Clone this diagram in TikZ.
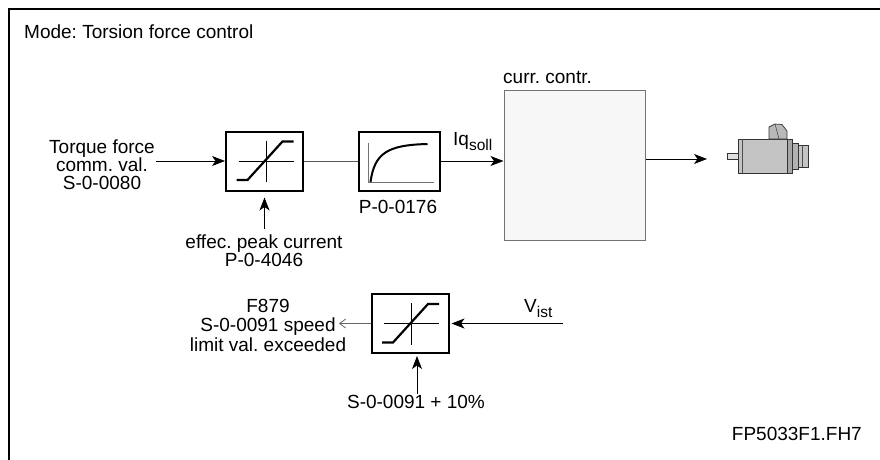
\documentclass[tikz,border=0pt]{standalone}
\usepackage{fontspec}
\setmainfont{Liberation Sans}
\usetikzlibrary{arrows.meta,calc}
\frenchspacing
\newcommand\fs{\fontsize{19}{17.5}\selectfont}
\newcommand\fsub{\fontsize{15.5}{15.5}\selectfont}
\definecolor{ccfill}{HTML}{F7F7F7}
\definecolor{motgray}{HTML}{C4C4C4}
\tikzset{
  lim/.style={draw, line width=2pt, minimum width=77pt, minimum height=59pt, inner sep=0pt},
  arr/.style={line width=0.9pt, -{Stealth[length=13pt,width=10pt,inset=3.5pt]}},
  openarr/.style={line width=0.8pt, draw=black!60, -{Straight Barb[length=6pt,width=9pt]}},
  thinline/.style={line width=0.9pt, draw=black!65},
  txt/.style={font=\fs, align=center, inner sep=1pt},
  crossline/.style={line width=0.8pt},
  limline/.style={line width=2.2pt},
  axisline/.style={line width=1pt, draw=black!55},
  motpart/.style={draw=black!80, line width=0.7pt, fill=motgray},
}
\newcommand\limcontent[1]{%
  \begin{scope}[shift={(#1.center)}]
    \draw[crossline] (-26,0) -- (29,0);
    \draw[crossline] (1.5,-20.5) -- (1.5,21);
    \draw[limline] (-28,19) -- (-17,19) -- (18,-19.5) -- (29,-19.5);
  \end{scope}}
\begin{document}
\begin{tikzpicture}[x=1pt,y=-1pt]
\useasboundingbox (0,0) rectangle (880,460);
% frame
\draw[line width=2pt] (880,9.5) -- (9,9.5) -- (9,460);
\node[txt, anchor=base west, inner sep=0pt] (title) at (24,38) {Mode: Torsion force control};

% blocks
\node[lim] (lim1) at (264.5,161) {};
\limcontent{lim1}
\node[lim, minimum width=81pt] (filt) at (399.5,161) {};
\begin{scope}[shift={(filt.center)}]
  \draw[axisline] (-31.5,-18) -- (-31.5,21) -- (34.5,21);
  \draw[limline, line width=2pt] (-29,21) .. controls (-25,-8) and (-12,-16) .. (28,-17);
\end{scope}
\node[draw=black!55, line width=1pt, fill=ccfill, minimum width=141pt, minimum height=150pt, inner sep=0pt] (cc) at (574.5,165) {};
\node[lim] (lim2) at (410,323.5) {};
\limcontent{lim2}

% labels
\node[txt] (tin) at (102,164.5) {Torque force\\comm. val.\\S-0-0080};
\node[txt, align=center, font=\fontsize{19}{15}\selectfont] (peak) at (264,251) {effec. peak current\\P-0-4046};
\node[txt, anchor=base] (p176) at (398,213) {P-0-0176};
\node[txt, anchor=base west, inner sep=0pt] (iq) at (453,145) {Iq\raisebox{-5pt}{\fsub soll}};
\node[txt, anchor=base west, inner sep=0pt] (ccl) at (503,83) {curr. contr.};
\node[txt, anchor=base west, inner sep=0pt] (vist) at (524,312) {V\raisebox{-5pt}{\fsub ist}};
\node[txt, font=\fontsize{19}{19.5}\selectfont] (f879) at (268,325) {F879\\S-0-0091 speed\\limit val. exceeded};
\node[txt, anchor=base] (s91) at (416,408) {S-0-0091 + 10\%};
\node[txt, anchor=base east, inner sep=0pt] (fp) at (862,440) {FP5033F1.FH7};

% motor
\coordinate (motin) at (707,159);
\draw[motpart, fill=gray!25] (727,153) rectangle (738,159);
\draw[motpart] (738,139) rectangle (790,173);
\draw[draw=black!70, line width=0.6pt] (742,139) -- (742,173);
\draw[motpart, fill=gray!70] (787,139) rectangle (792,173);
\draw[motpart, fill=gray!60] (792,143) rectangle (798,169);
\draw[motpart] (798,145) rectangle (808,167);
\draw[draw=black!70, line width=0.5pt] (802,145) -- (802,167);
\draw[motpart, fill=gray!55] (769,139) -- (769,127) -- (775,124) -- (782,124.5) -- (787,131) -- (787,139) -- cycle;
\draw[draw=black!70, line width=0.6pt] (775,124) -- (779,139);

% connectors
\coordinate (vin) at (563,323.5);
\coordinate (fout) at (339,323.5);
\draw[arr] (tin.east |- lim1.west) -- (lim1.west);
\draw[thinline] (lim1.east) -- (filt.west);
\draw[arr] (filt.east) -- (cc.west |- filt.east);
\draw[arr] (cc.east |- motin) -- (motin);
\draw[arr, shorten >=6pt, shorten <=5pt] (lim1.south |- peak.north) -- (lim1.south);
\draw[arr, shorten >=2pt] (vin) -- (lim2.east);
\draw[openarr] (lim2.west) -- (fout);
\draw[arr, shorten >=2pt] ([xshift=1pt]s91.north) -- ([xshift=1pt]s91.north |- lim2.south);
\end{tikzpicture}
\end{document}
